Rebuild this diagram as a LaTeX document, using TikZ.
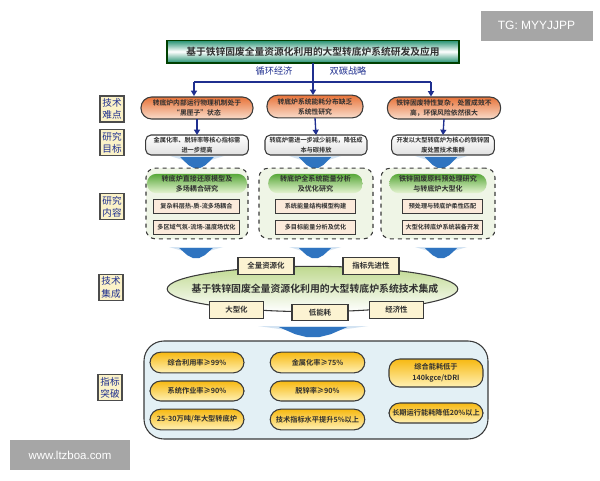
\documentclass[tikz,border=0pt]{standalone}
\usepackage{fontspec}
\setmainfont{Noto Sans CJK SC}[BoldFont={* Bold}]
\newfontfamily\latinf{Liberation Sans}
\usetikzlibrary{arrows.meta,shapes.geometric}
\definecolor{navy}{HTML}{1F2F8F}
\definecolor{bluefill}{HTML}{2F74C0}
\definecolor{palechev}{HTML}{D3E3F2}
\definecolor{ink}{HTML}{303030}
\definecolor{dk}{HTML}{3A3A3A}
\definecolor{hardtop}{HTML}{E8743A}
\definecolor{hardbot}{HTML}{F9DCCB}
\definecolor{gtop}{HTML}{58A83A}
\definecolor{gbot}{HTML}{E6F4D2}
\definecolor{panelf}{HTML}{EFF5E6}
\definecolor{subf}{HTML}{FBEADB}
\definecolor{tagf}{HTML}{FCF3D2}
\definecolor{sidef}{HTML}{FBF2C8}
\definecolor{kpit}{HTML}{F7B912}
\definecolor{kpib}{HTML}{FFF1B5}
\definecolor{kpanel}{HTML}{E3F0F5}
\definecolor{ttl}{HTML}{1F8F6E}
\definecolor{ellt}{HTML}{BFD98F}
\tikzset{
 every node/.style={inner sep=0pt,outer sep=0pt,align=center,text=ink},
 titlebox/.style={draw=black!75!green,line width=.8pt,top color=ttl,bottom color=ttl,middle color=white},
 hard/.style={draw=dk,line width=.8pt,rounded corners=8pt,top color=hardtop,bottom color=hardbot,font=\bfseries\fontsize{5.1}{7.6}\selectfont},
 goal/.style={draw=dk,line width=.8pt,rounded corners=4pt,top color=white,bottom color=black!12,font=\bfseries\fontsize{4.65}{7}\selectfont},
 panel/.style={draw=dk,dashed,line width=.8pt,rounded corners=7pt,fill=panelf},
 gpill/.style={rounded corners=7pt,top color=gtop,bottom color=gbot,font=\bfseries\fontsize{5.3}{7.6}\selectfont},
 sub/.style={draw=dk,line width=.7pt,fill=subf,font=\bfseries\fontsize{4.6}{6}\selectfont},
 tag/.style={draw=dk,line width=.8pt,fill=tagf,font=\bfseries\fontsize{5.6}{7}\selectfont},
 side/.style={draw=black!70,line width=.8pt,fill=sidef,text=navy,font=\fontsize{7.2}{9.2}\selectfont},
 kpi/.style={draw=dk,line width=.8pt,rounded corners=8pt,top color=kpit,bottom color=kpib,font=\bfseries\fontsize{5.4}{8}\selectfont},
 conn/.style={navy,line width=1pt},
 tip/.style={conn,-{Triangle[width=4.5pt,length=4pt]}},
}
\newcommand{\chev}[4]{% centre x, top y, half width, height
 \fill[palechev] (#1-#3,#2) -- (#1+#3,#2) -- (#1+#3*.5,#2+#4*.35) -- (#1-#3*.5,#2+#4*.35) -- cycle;
 \fill[bluefill] (#1-#3*.62,#2+#4*.1) -- (#1+#3*.62,#2+#4*.1) -- (#1+#3*.32,#2+#4*.75) -- (#1+#3*.12,#2+#4) -- (#1-#3*.12,#2+#4) -- (#1-#3*.32,#2+#4*.75) -- cycle;
}
\begin{document}
\begin{tikzpicture}[x=.75pt,y=-.75pt]
\useasboundingbox (0,0) rectangle (600,480);
\fill[white] (0,0) rectangle (600,480);
% watermarks
\node[fill=black!35,minimum width=84pt,minimum height=22.5pt,text=white,font=\latinf\fontsize{9}{9}\selectfont] (wm1) at (536.5,25.5) {TG: MYYJJPP};
\node[fill=black!35,minimum width=90pt,minimum height=22.5pt,text=white,font=\latinf\fontsize{8.6}{9}\selectfont] (wm2) at (70,455) {www.ltzboa.com};
% title
\node[titlebox,minimum width=219pt,minimum height=17.2pt,font=\bfseries\fontsize{7.3}{7.3}\selectfont] (title) at (313,51.5) {基于铁锌固废全量资源化利用的大型转底炉系统研发及应用};
\node[text=navy,font=\fontsize{6.9}{7}\selectfont] (l1) at (274,71) {循环经济};
\node[text=navy,font=\fontsize{6.9}{7}\selectfont] (l2) at (348,71) {双碳战略};
% side labels
\node[side,minimum width=18pt,minimum height=19.5pt] (s1) at (112,109) {技术\\难点};
\node[side,minimum width=18pt,minimum height=20pt] (s2) at (112,142.5) {研究\\目标};
\node[side,minimum width=18pt,minimum height=20pt] (s3) at (112,206.5) {研究\\内容};
\node[side,minimum width=18pt,minimum height=20pt] (s4) at (111,287.5) {技术\\集成};
\node[side,minimum width=18pt,minimum height=20pt] (s5) at (110,387.5) {指标\\突破};
% hard
\node[hard,minimum width=84pt,minimum height=16.5pt] (h1) at (197,108) {转底炉内部运行物理机制处于\\“黑匣子”状态};
\node[hard,minimum width=72pt,minimum height=17pt] (h2) at (315,106.5) {转底炉系统能耗分布缺乏\\系统性研究};
\node[hard,minimum width=85pt,minimum height=16.5pt] (h3) at (444,108) {铁锌固废特性复杂，处置成效不\\高，环保风险依然很大};
% goals
\node[goal,minimum width=77pt,minimum height=15pt] (g1) at (197,145) {金属化率、脱锌率等核心指标需\\进一步提高};
\node[goal,minimum width=76.5pt,minimum height=15pt] (g2) at (316,145) {转底炉需进一步减少能耗，降低成\\本与碳排放};
\node[goal,minimum width=77pt,minimum height=15pt] (g3) at (443,145) {开发以大型转底炉为核心的铁锌固\\废处置技术集群};
% connectors
\coordinate (bus) at (313,82);
\coordinate (busl) at (194,82);
\coordinate (busr) at (431,82);
\draw[conn] (title.south) -- (bus);
\draw[conn] (busl) -- (busr);
\draw[tip] (busl) -- (194,96);
\draw[tip] (bus) -- (313,95);
\draw[tip] (busr) -- (431,96.5);
\foreach \i in {1,2,3}{\draw[tip] (h\i.south) -- (g\i.north);}
% chevrons
\chev{197}{156}{27}{12}\chev{315}{156}{26}{12}\chev{441}{156}{26}{12}
\chev{196}{247}{27}{11}\chev{315}{247}{26}{11}\chev{441}{247}{26}{11}
\chev{313}{326}{55}{11}
% panels
\node[panel,minimum width=76.5pt,minimum height=53pt] (p1) at (197,203.5) {};
\node[panel,minimum width=85.5pt,minimum height=53pt] (p2) at (316,203.5) {};
\node[panel,minimum width=85.5pt,minimum height=53pt] (p3) at (438,203.5) {};
\node[gpill,minimum width=75pt,minimum height=14.5pt] (q1) at (197,183.5) {转底炉直接还原模型及\\多场耦合研究};
\node[gpill,minimum width=71pt,minimum height=14.5pt] (q2) at (315.5,183.5) {转底炉全系统能量分析\\及优化研究};
\node[gpill,minimum width=73pt,minimum height=14.5pt] (q3) at (438,183.5) {铁锌固废原料预处理研究\\与转底炉大型化};
\node[sub,minimum width=64pt,minimum height=10pt] (b11) at (196.5,206.5) {复杂料层热-质-流多场耦合};
\node[sub,minimum width=64pt,minimum height=10pt] (b12) at (196.5,227.5) {多区域气氛-流场-温度场优化};
\node[sub,minimum width=60.5pt,minimum height=10pt] (b21) at (315.5,206.5) {系统能量结构模型构建};
\node[sub,minimum width=60.5pt,minimum height=10pt] (b22) at (315.5,227.5) {多目标能量分析及优化};
\node[sub,minimum width=60.5pt,minimum height=10pt] (b31) at (442.5,206.5) {预处理与转底炉柔性匹配};
\node[sub,minimum width=60.5pt,minimum height=10pt] (b32) at (442.5,227.5) {大型化转底炉系统装备开发};
% integration
\node[ellipse,draw=dk,line width=.8pt,top color=ellt,bottom color=white,minimum width=218pt,minimum height=34pt] (ell) at (312.5,289) {};
\node[font=\bfseries\fontsize{7.4}{7.4}\selectfont] (elltx) at (315,289) {基于铁锌固废全量资源化利用的大型转底炉系统技术集成};
\node[tag,minimum width=42pt,minimum height=12.5pt] (t1) at (266,266) {全量资源化};
\node[tag,minimum width=42pt,minimum height=12.5pt] (t2) at (371,266) {指标先进性};
\node[tag,minimum width=41pt,minimum height=12.5pt] (t3) at (236.5,310) {大型化};
\node[tag,minimum width=42pt,minimum height=12.5pt] (t4) at (320,312.5) {低能耗};
\node[tag,minimum width=41pt,minimum height=12.5pt] (t5) at (396.5,310) {经济性};
% KPI panel
\node[draw=dk,line width=.8pt,rounded corners=15pt,fill=kpanel,minimum width=258pt,minimum height=73.5pt] (kp) at (316,390) {};
\node[kpi,minimum width=70.5pt,minimum height=15.5pt] (k1) at (197,362.5) {综合利用率≥99\%};
\node[kpi,minimum width=70.5pt,minimum height=15pt] (k2) at (197,391) {系统作业率≥90\%};
\node[kpi,minimum width=70.5pt,minimum height=15.5pt] (k3) at (197,419.5) {25-30万吨/年大型转底炉};
\node[kpi,minimum width=71pt,minimum height=15.5pt] (k4) at (317.5,362.5) {金属化率≥75\%};
\node[kpi,minimum width=71pt,minimum height=15pt] (k5) at (317.5,391) {脱锌率≥90\%};
\node[kpi,minimum width=71pt,minimum height=15.5pt] (k6) at (317.5,419.5) {技术指标水平提升5\%以上};
\node[kpi,minimum width=70.5pt,minimum height=21pt] (k7) at (436,373) {综合能耗低于\\140kgce/tDRI};
\node[kpi,minimum width=70.5pt,minimum height=15pt] (k8) at (436,413) {长期运行能耗降低20\%以上};
\end{tikzpicture}
\end{document}
